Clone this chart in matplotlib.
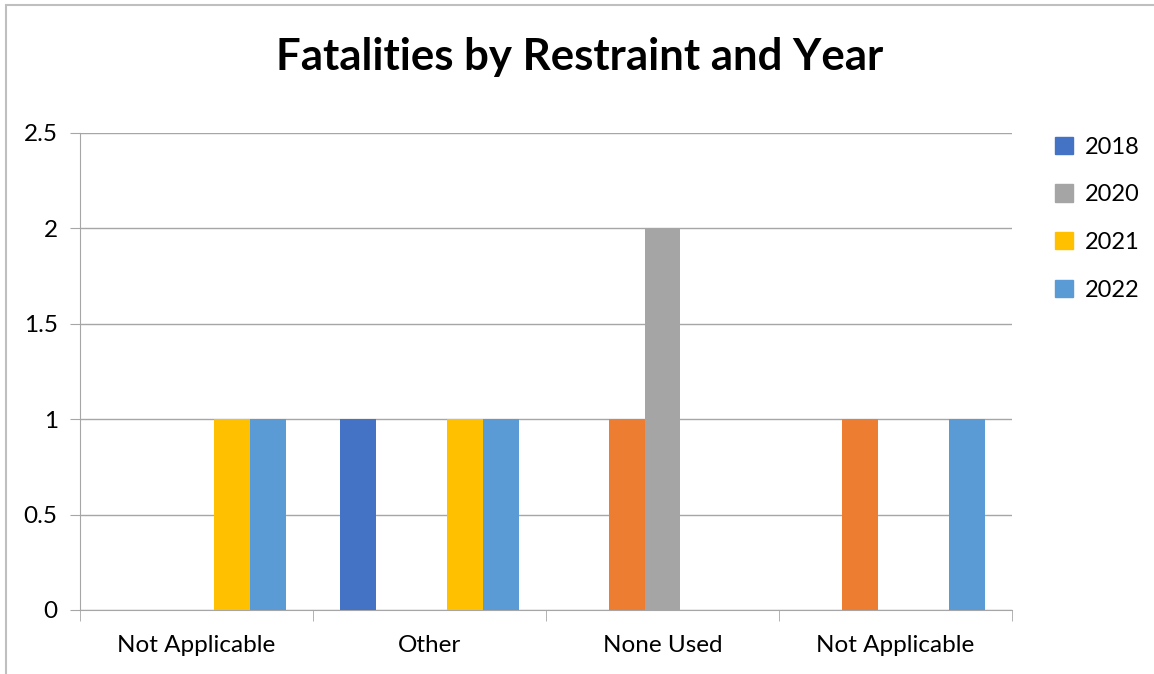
import numpy as np
import matplotlib.pyplot as plt
from matplotlib.patches import Patch, Rectangle

plt.rcParams['font.family'] = ['Lato', 'DejaVu Sans']

categories = ["Not Applicable", "Other", "None Used", "Not Applicable"]
years = ["2018", "2019", "2020", "2021", "2022"]
colors = ["#4472C4", "#ED7D31", "#A5A5A5", "#FFC000", "#5B9BD5"]
in_legend = [True, False, True, True, True]

fatalities = {
    "2018": [0, 1, 0, 0],
    "2019": [0, 0, 1, 1],
    "2020": [0, 0, 2, 0],
    "2021": [1, 1, 0, 0],
    "2022": [1, 1, 0, 1],
}


def main():
    fig = plt.figure(figsize=(11.54, 6.74), dpi=100)
    ax = fig.add_axes([0.0693, 0.095, 0.8077, 0.7077])

    n = len(years)
    width = 1 / (n + 1.5)  # Excel style gap width of 150%
    x = np.arange(len(categories))
    for i, (year, color) in enumerate(zip(years, colors)):
        offset = (i - (n - 1) / 2) * width
        ax.bar(x + offset, fatalities[year], width, color=color, zorder=3)

    ax.set_xlim(-0.5, len(categories) - 0.5)
    ax.set_ylim(0, 2.5)
    ax.set_yticks(np.arange(0, 2.51, 0.5))
    ax.set_yticklabels(["0", "0.5", "1", "1.5", "2", "2.5"])
    ax.grid(axis="y", color="#A6A6A6", linewidth=1, zorder=0)

    ax.set_xticks(x)
    ax.set_xticklabels(categories)
    ax.set_xticks(np.arange(-0.5, len(categories)), minor=True)
    ax.tick_params(axis="x", which="major", length=0, pad=18, labelsize=17.5)
    ax.tick_params(axis="x", which="minor", length=8, color="#A6A6A6")
    ax.tick_params(axis="y", length=7, color="#A6A6A6", pad=9, labelsize=17.5)

    for side in ["top", "right"]:
        ax.spines[side].set_visible(False)
    for side in ["left", "bottom"]:
        ax.spines[side].set_color("#A6A6A6")

    fig.text(0.502, 0.915, "Fatalities by Restraint and Year", fontsize=31.5,
             fontweight="bold", ha="center", va="center")

    handles = [Patch(color=c, label=y)
               for y, c, keep in zip(years, colors, in_legend) if keep]
    fig.legend(handles=handles, loc="upper left",
               bbox_to_anchor=(0.896, 0.829), frameon=False, fontsize=17,
               handlelength=0.75, handleheight=0.75, handletextpad=0.5,
               labelspacing=1.13)

    # light outer frame of the chart area
    fig.patches.append(Rectangle((0.005, -0.1), 1.2, 1.093, fill=False,
                                 edgecolor="#BFBFBF", linewidth=1.5,
                                 transform=fig.transFigure))

    fig.savefig("out.png", dpi=100)


if __name__ == "__main__":
    main()
